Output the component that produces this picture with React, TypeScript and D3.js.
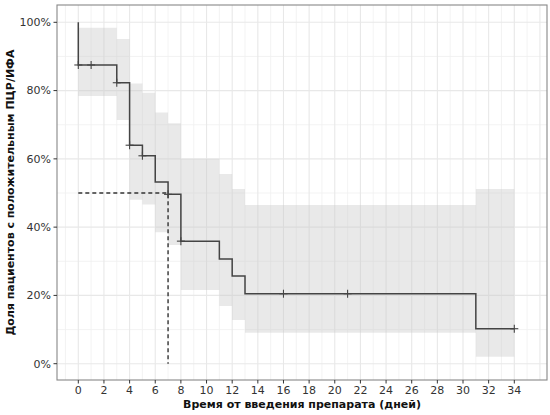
import React from "react";
import * as d3 from "d3";

// Kaplan–Meier step data
const stepTimes = [0, 0, 3, 4, 5, 6, 7, 8, 11, 12, 13, 31, 34];
const stepSurv = [1, 0.875, 0.823, 0.64, 0.609, 0.532, 0.496, 0.359, 0.307, 0.257, 0.205, 0.1025, 0.1025];

// Confidence band (step)
const bandTimes = [0, 3, 4, 5, 6, 7, 8, 11, 12, 13, 31, 34];
const bandUpper = [0.984, 0.951, 0.821, 0.794, 0.736, 0.704, 0.6, 0.556, 0.512, 0.465, 0.512, 0.512];
const bandLower = [0.784, 0.714, 0.48, 0.466, 0.385, 0.348, 0.216, 0.169, 0.128, 0.091, 0.0205, 0.0205];

// Censoring marks
const censorTimes = [0, 1, 3, 4, 5, 7, 8, 16, 21, 34];

// Median
const medianTime = 7;
const medianSurv = 0.5;

const xTicks = d3.range(0, 35, 2);
const yTicks = [0, 0.2, 0.4, 0.6, 0.8, 1];
const xMinor = d3.range(-1, 37, 2);
const yMinor = [0.1, 0.3, 0.5, 0.7, 0.9];

const xTitle = "Время от введения препарата (дней)";
const yTitle = "Доля пациентов с положительным ПЦР/ИФА";

const W = 550;
const H = 415;
const panel = { left: 57, right: 547, top: 5, bottom: 380 };

function survAt(t: number): number {
  let s = stepSurv[0];
  for (let i = 0; i < stepTimes.length; i++) {
    if (stepTimes[i] <= t) s = stepSurv[i];
  }
  return s;
}

export default function App() {
  const x = d3.scaleLinear().domain([0, 34]).range([78.3, 514.3]);
  const y = d3.scaleLinear().domain([0, 1]).range([363.7, 22.3]);

  const stepData = stepTimes.map((t, i) => [t, stepSurv[i]] as [number, number]);
  const line = d3
    .line<[number, number]>()
    .x((d) => x(d[0]))
    .y((d) => y(d[1]))
    .curve(d3.curveStepAfter);

  const bandData = bandTimes.map((t, i) => ({ t, lo: bandLower[i], hi: bandUpper[i] }));
  const area = d3
    .area<{ t: number; lo: number; hi: number }>()
    .x((d) => x(d.t))
    .y0((d) => y(d.lo))
    .y1((d) => y(d.hi))
    .curve(d3.curveStepAfter);

  const font = "'DejaVu Sans', sans-serif";
  const lineColor = "#444";
  const ms = 4;

  return (
    <svg
      width={W}
      height={H}
      style={{ position: "absolute", left: 0, top: 0, background: "#fff" }}
    >
      <rect x={0} y={0} width={W} height={H} fill="#fff" />
      <defs>
        <clipPath id="panelClip">
          <rect
            x={panel.left}
            y={panel.top}
            width={panel.right - panel.left}
            height={panel.bottom - panel.top}
          />
        </clipPath>
      </defs>
      <g clipPath="url(#panelClip)">
        {xMinor.map((v) => (
          <line key={"xm" + v} x1={x(v)} x2={x(v)} y1={panel.top} y2={panel.bottom} stroke="#f0f0f0" strokeWidth={0.8} />
        ))}
        {yMinor.map((v) => (
          <line key={"ym" + v} x1={panel.left} x2={panel.right} y1={y(v)} y2={y(v)} stroke="#f0f0f0" strokeWidth={0.8} />
        ))}
        {xTicks.concat([36]).map((v) => (
          <line key={"xg" + v} x1={x(v)} x2={x(v)} y1={panel.top} y2={panel.bottom} stroke="#e8e8e8" strokeWidth={1.1} />
        ))}
        {yTicks.map((v) => (
          <line key={"yg" + v} x1={panel.left} x2={panel.right} y1={y(v)} y2={y(v)} stroke="#e8e8e8" strokeWidth={1.1} />
        ))}
        <path d={area(bandData) || ""} fill="#c8c8c8" fillOpacity={0.4} stroke="none" />
        <path
          d={`M${x(0)},${y(medianSurv)}H${x(medianTime)}V${y(0)}`}
          fill="none"
          stroke="#333"
          strokeWidth={1.4}
          strokeDasharray="4,3"
        />
        <path d={line(stepData) || ""} fill="none" stroke={lineColor} strokeWidth={1.5} />
        {censorTimes.map((t) => {
          const cx = x(t);
          const cy = y(survAt(t));
          return (
            <g key={"c" + t} stroke={lineColor} strokeWidth={1.1}>
              <line x1={cx - ms} x2={cx + ms} y1={cy} y2={cy} />
              <line x1={cx} x2={cx} y1={cy - ms} y2={cy + ms} />
            </g>
          );
        })}
      </g>
      <rect
        x={panel.left}
        y={panel.top}
        width={panel.right - panel.left}
        height={panel.bottom - panel.top}
        fill="none"
        stroke="#888"
        strokeWidth={1.1}
      />
      {xTicks.map((v) => (
        <g key={"xt" + v}>
          <line x1={x(v)} x2={x(v)} y1={panel.bottom} y2={panel.bottom + 3.5} stroke="#333" strokeWidth={1} />
          <text x={x(v)} y={panel.bottom + 14} textAnchor="middle" fontFamily={font} fontSize={11} fill="#333">
            {v}
          </text>
        </g>
      ))}
      {yTicks.map((v) => (
        <g key={"yt" + v}>
          <line x1={panel.left - 3.5} x2={panel.left} y1={y(v)} y2={y(v)} stroke="#333" strokeWidth={1} />
          <text
            x={panel.left - 6}
            y={y(v)}
            dy="0.35em"
            textAnchor="end"
            fontFamily={font}
            fontSize={11}
            fill="#333"
          >
            {d3.format(".0%")(v)}
          </text>
        </g>
      ))}
      <text
        x={(panel.left + panel.right) / 2}
        y={408}
        textAnchor="middle"
        fontFamily={font}
        fontSize={11}
        fontWeight="bold"
        fill="#111"
      >
        {xTitle}
      </text>
      <text
        transform={`translate(14,${(panel.top + panel.bottom) / 2}) rotate(-90)`}
        textAnchor="middle"
        fontFamily={font}
        fontSize={11}
        fontWeight="bold"
        fill="#111"
      >
        {yTitle}
      </text>
    </svg>
  );
}
